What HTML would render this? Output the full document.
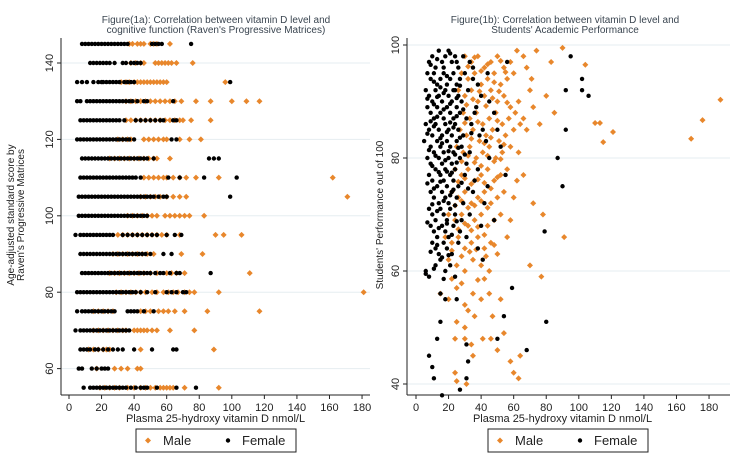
<!DOCTYPE html>
<html><head><meta charset="utf-8"><style>
body{margin:0;background:#fff;}
svg{display:block;font-family:"Liberation Sans",sans-serif;}
</style></head><body>
<svg id="chart" width="737" height="462" viewBox="0 0 737 462">
<g id="left"></g>
<g id="right"></g>
</svg>
<script>
// ---- Panel 1a data: score rows, female and male vitamin D values per row ----
const rowScores = [145,140,135,130,125,120,115,110,105,100,95,90,85,80,75,70,65,60,55];
const rowFemale = [
"8 10 12 14 16 18 20 22 24 26 28 30 32 34 36 51 53 55 57 75",
"13 15 17 19 21 23 25 28 33 35 38 40 42 44",
"5 8 11 15 18 20 21 23 25 27 29 31 34 36 38 40 99",
"5 7 11 13 15 17 19 21 23 25 27 29 31 33 35 37 39 42 46 48 64",
"7 9 11 13 15 17 19 21 23 25 27 29 31 34 41 44 47 50 53 56 58 64 66",
"5 7 9 11 13 15 17 19 21 23 25 27 29 31 33 35 37 40 63 66",
"8 10 12 14 16 18 20 22 24 26 28 30 32 34 36 38 40 42 44 46 48 52 86 89 92",
"7 9 11 13 15 17 19 21 23 25 27 29 31 33 35 37 39 41 44 61 68 83 103",
"6 8 10 12 14 16 18 20 22 24 26 28 30 32 34 36 38 40 42 44 46 48 50 52 55 58 60 99",
"6 8 10 12 14 16 18 20 22 24 26 28 30 32 34 36 38 40 42 44 46 48",
"4 7 9 11 13 15 17 19 21 23 25 27 33 36 39 42 45 48 51 54 60 65 69",
"7 9 11 13 15 17 19 21 23 25 27 29 31 33 35 37 39 41 43 45 47 50 58 63",
"8 10 12 14 16 18 20 22 24 26 28 30 32 34 36 38 40 42 44 46 48 50 53 56 58 62 66 68 87",
"5 7 9 11 13 15 17 19 21 23 25 27 29 31 33 35 37 39 41 44 48 53 60 63 66 70 72",
"5 8 10 12 14 16 18 20 22 24 26 28 36 38 40 42 46 52",
"4 7 9 11 13 15 17 19 21 23 25 27 29 31 33 35 37",
"7 9 11 13 16 18 21 24 27 30 33 40 51 64 66",
"6 8 14 17 20 22 24",
"9 13 15 17 19 21 23 25 27 29 31 33 35 38 41 44 46 48 54 66 78"];
const rowMale = [
"37 39 42 44 46 50 52 54 62",
"38 41 44 46 53 55 57 59 61 63 66 76",
"32 35 37 40 42 44 46 48 50 52 54 56 58 60 96",
"35 38 41 44 47 50 53 56 59 62 65 69 78 87 100 109 117",
"35 38 41 44 47 50 53 56 59 62 65 68 70 75 87",
"30 33 36 38 46 49 52 55 58 60 68 74 81",
"25 28 31 34 37 40 43 46 49 52 54 62",
"46 49 52 55 58 60 64 68 72 78 92 162",
"44 47 50 53 56 60 64 68 72 171",
"36 39 42 45 48 51 54 59 62 65 68 71 74 83",
"30 33 36 39 42 45 48 51 54 57 60 68 90 95 106",
"27 30 33 36 39 42 45 48 52 69 82",
"25 28 31 34 37 40 43 46 50 54 60 63 66 71 111",
"29 32 35 38 41 44 47 51 54 58 61 64 67 71 74 77 92 181",
"15 18 21 24 27 44 47 50 55 58 61 65 71 85 117",
"15 18 21 24 27 30 33 35 40 42 44 46 48 51 54 62 77",
"12 15 18 21 23 25 44 89",
"17 28 32 36 42 44",
"19 22 25 28 31 36 40 44 47 50 53 56 58 60 62 64 71 92"];
const xTicks = [0,20,40,60,80,100,120,140,160,180];
const leftYTicks = [60,80,100,120,140];
const rightYTicks = [40,60,80,100];

// ---- Panel 1b data: [vitamin D, performance] ----
const perfFemale = [
[8,97],[10,98],[12,96],[14,99],[16,97],[18,98],[20,99],[22,97],[24,98],[26,96],[29,98],[33,97],
[7,95],[9,94],[11,95],[13,93],[15,94],[17,95],[19,93],[21,94],[23,95],[25,93],[27,94],[30,95],[35,94],
[6,92],[8,91],[10,90],[12,92],[14,91],[16,90],[18,92],[20,91],[22,90],[24,92],[26,91],[28,90],[32,92],[40,91],
[7,89],[9,88],[11,87],[13,89],[15,88],[17,87],[19,89],[21,88],[23,87],[25,89],[27,88],[31,87],[37,89],
[6,86],[8,85],[10,84],[12,86],[14,85],[16,84],[18,86],[20,85],[22,84],[24,86],[26,85],[29,84],[34,86],[41,85],
[5,83],[9,82],[11,81],[13,83],[15,82],[17,81],[19,83],[21,82],[23,81],[25,83],[28,82],[33,81],[43,83],
[7,80],[9,79],[12,78],[14,80],[16,79],[18,78],[20,80],[22,79],[24,78],[27,80],[31,79],[38,78],
[8,77],[10,76],[13,75],[15,77],[17,76],[19,75],[21,77],[23,76],[26,75],[30,77],[36,76],[44,75],
[9,74],[11,73],[14,72],[16,74],[18,73],[20,72],[22,74],[25,73],[29,72],[35,74],
[8,71],[10,70],[12,69],[15,71],[17,70],[19,69],[21,71],[24,70],[28,69],[33,70],
[9,68],[11,67],[13,66],[16,68],[18,67],[20,66],[23,68],[27,67],[31,66],[40,68],
[10,65],[12,64],[14,63],[17,65],[19,64],[22,63],[26,65],[38,64],
[6,60],[8,59],[12,61],[15,62],[18,60],[21,61],[24,59],[41,62],
[15,56],[18,55],[25,55],[15,51],[13,48],[8,45],[10,43],[11,41],[32,44],[31,47],[50,48],[59,57],[54,52],[68,46],[80,51],[27,39],[16,38],[31,41],
[35,96],[38,93],[45,90],[48,88],[50,85],[52,82],[45,80],[55,77],[42,72],[48,69],[39,84],[36,88],[44,95],[56,97],
[95,98],[102,94],[102,92],[106,91],[92,92],[92,85],[87,80],[90,75],[79,67],
[9,96.5],[13,97.5],[17,96],[21,98.5],[25,97],[11,93.5],[15,92.5],[19,94.5],[23,92],[27,92.8],
[7,90.5],[11,89.5],[13,90.8],[17,91.5],[21,89.6],[25,90.6],[9,86.5],[13,87.3],[17,88.6],[21,86.3],[25,87.4],
[7,84.3],[11,85.6],[15,83.5],[19,84.6],[23,85.4],[27,83.6],[8,81.4],[12,80.4],[16,82.6],[20,81.2],[24,80.6],[26,81.8],
[10,78.6],[14,77.5],[18,79.6],[22,77.4],[25,79.2],[7,75.5],[11,74.6],[15,75.8],[19,77.6],[23,74.4],[28,75.6],
[10,71.8],[13,70.6],[17,72.4],[21,73.4],[24,71.6],[7,68.6],[14,67.6],[19,68.4],[22,66.4],[25,68.8],
[9,63.4],[13,64.6],[16,62.4],[20,62.8],[11,60.4],[17,58.6],[6,59.5],[29,88.6],[30,80.6],[32,74.6],[34,84.4]];
const perfMale = [
[30,98],[34,97],[38,98],[42,96],[46,97],[50,98],[54,96],[58,97],[62,99],[66,98],[74,99],[28,95],[32,94],[36,95],[40,93],[44,94],[48,95],[52,93],[56,94],[60,95],[68,96],[71,94],
[26,92],[30,91],[34,92],[38,90],[42,91],[46,92],[50,90],[54,91],[58,89],[63,90],[70,92],
[29,88],[33,87],[37,88],[41,86],[45,87],[49,88],[53,86],[57,87],[61,88],[66,87],[72,89],
[27,85],[31,84],[35,85],[39,83],[43,84],[47,85],[51,83],[55,84],[60,85],[64,86],[68,85],[76,86],
[25,82],[29,81],[33,82],[37,80],[41,81],[45,82],[49,80],[53,81],[58,82],[63,81],
[24,78],[28,77],[32,78],[36,76],[40,77],[44,78],[48,76],[52,77],[56,78],[62,76],[66,77],
[22,74],[26,73],[30,74],[34,72],[38,73],[42,74],[46,72],[50,73],[54,74],[60,73],[72,72],
[20,70],[24,69],[28,70],[32,68],[36,69],[40,70],[44,68],[48,69],[52,70],[58,69],[78,70],[91,66],
[18,66],[22,65],[26,66],[30,64],[34,65],[38,66],[42,64],[46,65],[50,63],[56,66],
[20,62],[25,61],[30,60],[35,62],[40,61],[45,60],[70,61],[77,59],
[15,56],[20,55],[25,57],[30,54],[35,56],[40,55],[45,56],[52,55],[47,52],
[25,51],[30,50],[32,53],[36,52],[24,48],[30,48],[34,47],[41,48],[46,48],[54,49],[50,46],[35,45],[58,44],[64,45],[60,42],[63,41],[24,42],[25,40.5],[31,40],
[187,90.3],[176,86.7],[169,83.4],[121,84.6],[115,82.8],[110,86.2],[113,86.2],[104,96.5],[90,99.5],[83,97],[80,91],[85,88],
[32,96.2],[36,97.8],[40,95.4],[44,96.6],[48,93.4],[52,97.2],[55,95.2],[31,89.4],[35,90.4],[39,91.8],[43,89.2],[47,90.6],[51,91.8],[56,89.8],
[30,86.2],[34,83.4],[38,86.4],[42,82.6],[46,83.6],[50,86.6],[54,82.4],[28,79.4],[32,80.4],[36,79.2],[40,78.6],[44,80.4],[48,79.4],[52,79.8],
[26,75.8],[30,76.4],[34,75.4],[38,76.2],[42,75.6],[46,74.6],[50,76.6],[24,71.6],[28,72.4],[32,71.2],[36,71.6],[40,72.4],[44,71.2],
[26,67.4],[30,68.4],[34,67.2],[38,67.8],[42,66.4],[22,63.6],[28,62.6],[33,63.4],[37,63.8],[43,62.6],[48,64.6],[22,58.6],[28,57.8],[38,58.4],[42,58.6]];

const NS="http://www.w3.org/2000/svg";
const ORANGE="#e8872c";
function mk(parent,tag,attrs){const e=document.createElementNS(NS,tag);for(const k in attrs)e.setAttribute(k,attrs[k]);parent.appendChild(e);return e;}

// axis functions
const lx=v=>69+v*1.628, ly=v=>63+(140-v)*3.82;
const rx=v=>416+v*1.628, ry=v=>45+(100-v)*5.65;

function drawFrame(g,xf,yf,yTicks,axisX,x0,x1,title1,title2,tcx,ylab,ylabX){
  yTicks.forEach(t=>{
    const gl=mk(g,'line',{x1:axisX,x2:x1,y1:yf(t),y2:yf(t),stroke:'#e6edf1','stroke-width':1});
    
    
    const tk=mk(g,'line',{x1:axisX-4,x2:axisX,y1:yf(t),y2:yf(t),stroke:'#222'});
    
    
    const tl=mk(g,'text',{x:axisX-8,y:yf(t),'font-size':11,fill:'#222','text-anchor':'middle',transform:`rotate(-90 ${axisX-8} ${yf(t)})`});
    tl.textContent=t;
    
    
  });
  const ya=mk(g,'line',{x1:axisX,x2:axisX,y1:38,y2:395,stroke:'#222'});
  
  
  const xa=mk(g,'line',{x1:axisX,x2:x1,y1:395,y2:395,stroke:'#222'});
  
  
  xTicks.forEach(t=>{
    const tk=mk(g,'line',{x1:xf(t),x2:xf(t),y1:395,y2:399,stroke:'#222'});
    
    
    const tl=mk(g,'text',{x:xf(t),y:411,'font-size':11,fill:'#222','text-anchor':'middle'});
    tl.textContent=t;
    
    
  });
  const xt=mk(g,'text',{x:xf(90),y:422,'font-size':11,fill:'#222','text-anchor':'middle'});
  xt.textContent='Plasma 25-hydroxy vitamin D nmol/L';
  
  
  [title1,title2].forEach((s,i)=>{
    const t=mk(g,'text',{x:tcx,y:23+i*10,'font-size':10,fill:'#3a4550','text-anchor':'middle'});
    t.textContent=s;
    
    
  });
  ylab.forEach((s,i)=>{
    const xx=ylabX+i*10;
    const t=mk(g,'text',{x:xx,y:215,'font-size':10,fill:'#222','text-anchor':'middle',transform:`rotate(-90 ${xx} 215)`});
    t.textContent=s;
    
    
  });
}
function diamond(g,x,y){
  const d=mk(g,'path',{d:`M${x} ${y-3}L${x+3} ${y}L${x} ${y+3}L${x-3} ${y}Z`,fill:ORANGE});
  
  
}
function dot(g,x,y){
  const c=mk(g,'circle',{cx:x,cy:y,r:2.2,fill:'#000'});
  
  
}
function legend(g,x){
  const r=mk(g,'rect',{x:x,y:429,width:160,height:23,fill:'#fff',stroke:'#222'});
  
  
  diamond(g,x+12,440.5);
  const t1=mk(g,'text',{x:x+27,y:445,'font-size':13,fill:'#222'});t1.textContent='Male';
  
  
  dot(g,x+92,440.5);
  const t2=mk(g,'text',{x:x+106,y:445,'font-size':13,fill:'#222'});t2.textContent='Female';
  
  
}

const L=document.getElementById('left'), R=document.getElementById('right');
drawFrame(L,lx,ly,leftYTicks,61,61,370,"Figure(1a): Correlation between vitamin D level and","cognitive function (Raven's Progressive Matrices)",216,["Age-adjusted standard score by","Raven's Progressive Matrices"],14);
drawFrame(R,rx,ry,rightYTicks,407,407,730,"Figure(1b): Correlation between vitamin D level and","Students' Academic Performance",565,["Students' Performance out of 100"],383);

rowScores.forEach((s,i)=>{
  rowMale[i].split(' ').map(Number).forEach(v=>diamond(L,lx(v),ly(s)));
  rowFemale[i].split(' ').map(Number).forEach(v=>dot(L,lx(v),ly(s)));
});
perfMale.forEach(p=>diamond(R,rx(p[0]),ry(p[1])));
perfFemale.forEach(p=>dot(R,rx(p[0]),ry(p[1])));
legend(L,136);
legend(R,488);
</script>
</body></html>
